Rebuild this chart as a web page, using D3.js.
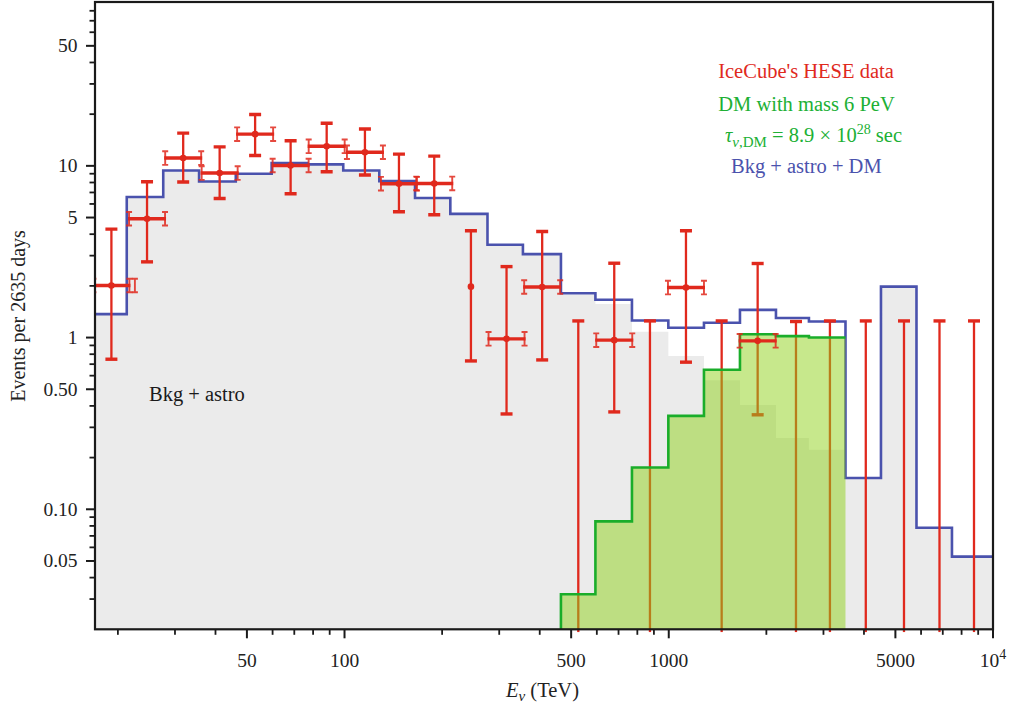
<!DOCTYPE html>
<html><head><meta charset="utf-8">
<script src="https://cdn.jsdelivr.net/npm/d3@7"></script>
<style>
html,body{margin:0;padding:0;background:#fff;}
svg text{font-family:"Liberation Serif","Times New Roman",serif;}
</style></head><body>
<svg id="chart" width="1010" height="704"></svg>
<script>
// ---- data ----
const binEdges = [16.5, 21.3, 27.6, 35.6, 46.2, 59.6, 76.8, 99.1, 128, 165, 212, 276, 355, 465, 594, 770, 997, 1284, 1658, 2141, 2706, 3508, 4513, 5808, 7472, 12000];
const bkgAstro = [1.37, 6.58, 9.4, 8.11, 9.0, 10.4, 10.2, 9.4, 8.15, 6.5, 5.25, 3.47, 3.06, 1.78, 1.57, 1.08, 0.78, 0.565, 0.405, 0.26, 0.222, 0.152, 1.98, 0.078, 0.053];
const totalModel = [1.37, 6.58, 9.4, 8.11, 9.0, 10.4, 10.2, 9.4, 8.15, 6.5, 5.25, 3.47, 3.06, 1.81, 1.66, 1.256, 1.14, 1.22, 1.45, 1.30, 1.24, 0.152, 1.98, 0.078, 0.053];
const dmSignal = [null, null, null, null, null, null, null, null, null, null, null, null, null, 0.032, 0.085, 0.175, 0.35, 0.65, 1.045, 1.02, 1.0, null, null, null, null];

const dataE = [19.1, 24.6, 31.8, 41.2, 53.0, 68.2, 88.1, 115.6, 147.2, 189.1, 245.4, 316, 407, 526, 679, 875, 1130, 1456, 1880, 2468, 3141, 4052, 5315, 6839, 8738];
const dataVal = [2.01, 4.92, 11.1, 9.08, 15.3, 10.05, 13.0, 12.0, 7.87, 7.9, 1.98, 0.983, 1.97, 0, 0.966, 0, 1.956, 0, 0.957, 0, 0, 0, 0, 0, 0];
const dataHi = [4.28, 8.08, 15.5, 12.9, 19.9, 14.0, 17.7, 16.4, 11.7, 11.4, 4.19, 2.59, 4.15, 1.25, 2.71, 1.25, 4.19, 1.25, 2.70, 1.24, 1.25, 1.25, 1.25, 1.25, 1.25];
const dataLo = [0.748, 2.76, 8.05, 6.45, 11.5, 6.88, 9.24, 8.84, 5.4, 5.19, 0.731, 0.359, 0.741, 0, 0.369, 0, 0.719, 0, 0.355, 0, 0, 0, 0, 0, 0];
const dataHasXBar = [1,1,1,1,1,1,1,1,1,1,0,1,1,0,1,0,1,0,1,0,0,0,0,0,0];
const dataBinHalfWidthDex = 0.0555;

const xTickMajor = [50, 100, 500, 1000, 5000, 10000];
const xTickLabels = ["50", "100", "500", "1000", "5000", "10^4"];
const yTickMajor = [0.05, 0.1, 0.5, 1, 5, 10, 50];
const yTickLabels = ["0.05", "0.10", "0.50", "1", "5", "10", "50"];

// ---- layout ----
const L = 95, R = 993, T = 2, B = 629.3;
const RED = "#e0291d", BLUE = "#4a52ad", GREEN = "#1aad2a", GREENTXT = "#20b034", GRAY = "#ebebeb";

const x = d3.scaleLog().domain([17, 1e4]).range([L, R]);
const y = d3.scaleLog().domain([0.02, 90]).range([B, T]);

const svg = d3.select("#chart");
const defs = svg.append("defs");
defs.append("clipPath").attr("id", "clip")
  .append("rect").attr("x", L).attr("y", T).attr("width", R - L).attr("height", B - T);
defs.append("clipPath").attr("id", "clip2")
  .append("rect").attr("x", L).attr("y", T).attr("width", R - L).attr("height", B - T + 3);

function stepPts(vals, from, to) {
  const pts = [];
  for (let i = from; i <= to; i++) pts.push([binEdges[i], vals[i]]);
  pts.push([binEdges[to + 1], vals[to]]);
  return pts;
}
const nb = bkgAstro.length;
const area = d3.area().curve(d3.curveStepAfter).x(d => x(d[0])).y0(B + 2).y1(d => y(d[1]));
const line = d3.line().curve(d3.curveStepAfter).x(d => x(d[0])).y(d => y(d[1]));

// layer 1: gray Bkg + astro area and blue total line
const gBase = svg.append("g").attr("clip-path", "url(#clip)");
gBase.append("path").attr("d", area(stepPts(bkgAstro, 0, nb - 1))).attr("fill", GRAY);
gBase.append("path").attr("d", line(stepPts(totalModel, 0, nb - 1)))
  .attr("fill", "none").attr("stroke", BLUE).attr("stroke-width", 2.6);

// layer 2: red vertical error bars
const gv = svg.append("g").attr("clip-path", "url(#clip2)");
dataE.forEach((e, i) => {
  const xc = x(e);
  const yTop = y(dataHi[i]);
  const yBot = dataLo[i] > 0 ? y(dataLo[i]) : B + 3;
  gv.append("line").attr("x1", xc).attr("x2", xc).attr("y1", yTop).attr("y2", yBot)
    .attr("stroke", RED).attr("stroke-width", 2.3);
  gv.append("line").attr("x1", xc - 6).attr("x2", xc + 6).attr("y1", yTop).attr("y2", yTop)
    .attr("stroke", RED).attr("stroke-width", 3.4);
  if (dataLo[i] > 0)
    gv.append("line").attr("x1", xc - 6).attr("x2", xc + 6).attr("y1", yBot).attr("y2", yBot)
      .attr("stroke", RED).attr("stroke-width", 3.4);
});

// layer 3: DM green area + line (semi-transparent, over the error bars)
const gDM = svg.append("g").attr("clip-path", "url(#clip)");
const dmFrom = dmSignal.findIndex(v => v != null);
const dmTo = dmSignal.length - 1 - [...dmSignal].reverse().findIndex(v => v != null);
const dmPts = stepPts(dmSignal, dmFrom, dmTo);
gDM.append("path").attr("d", area(dmPts)).attr("fill", "#8fd11a").attr("fill-opacity", 0.5);
const dmLinePts = [[binEdges[dmFrom], 0.019]].concat(dmPts);
gDM.append("path").attr("d", line(dmLinePts)).attr("fill", "none")
  .attr("stroke", GREEN).attr("stroke-width", 2.6);

// layer 4: red horizontal bars, caps, dots
function iCap(sel, xc, yc) {
  sel.append("path")
    .attr("d", `M${xc - 3},${yc - 6.8}H${xc + 3}M${xc},${yc - 6.8}V${yc + 6.8}M${xc - 3},${yc + 6.8}H${xc + 3}`)
    .attr("stroke", RED).attr("stroke-width", 1.9).attr("fill", "none").attr("opacity", 0.85);
}
const gh = svg.append("g").attr("clip-path", "url(#clip)");
dataE.forEach((e, i) => {
  if (dataVal[i] <= 0) return;
  const xc = x(e), yc = y(dataVal[i]);
  if (dataHasXBar[i]) {
    const xl = x(e / Math.pow(10, dataBinHalfWidthDex));
    const xr = x(e * Math.pow(10, dataBinHalfWidthDex));
    gh.append("line").attr("x1", xl - 1).attr("x2", xr + 1).attr("y1", yc).attr("y2", yc)
      .attr("stroke", RED).attr("stroke-width", 3.4);
    iCap(gh, xl, yc); iCap(gh, xr, yc);
    if (i === 0) iCap(gh, xr + 5.5, yc);
  }
  gh.append("circle").attr("cx", xc).attr("cy", yc).attr("r", 3.3).attr("fill", RED);
});

// ---- axes ----
const ax = svg.append("g");
const xMinor = x.ticks().filter(t => !xTickMajor.some(m => Math.abs(m - t) / m < 1e-6) && t > 17 && t < 1e4);
const yMinor = y.ticks().filter(t => !yTickMajor.some(m => Math.abs(m - t) / m < 1e-6) && t > 0.0201 && t < 89);
const tickCol = "#1a1a1a";
xTickMajor.forEach(t => ax.append("line").attr("x1", x(t)).attr("x2", x(t)).attr("y1", B).attr("y2", B + 9).attr("stroke", tickCol).attr("stroke-width", 2));
xMinor.forEach(t => ax.append("line").attr("x1", x(t)).attr("x2", x(t)).attr("y1", B).attr("y2", B + 5.5).attr("stroke", tickCol).attr("stroke-width", 1.8));
yTickMajor.forEach(t => ax.append("line").attr("x1", L - 9).attr("x2", L).attr("y1", y(t)).attr("y2", y(t)).attr("stroke", tickCol).attr("stroke-width", 2));
yMinor.forEach(t => ax.append("line").attr("x1", L - 5.5).attr("x2", L).attr("y1", y(t)).attr("y2", y(t)).attr("stroke", tickCol).attr("stroke-width", 1.8));

// frame
svg.append("rect").attr("x", L).attr("y", T).attr("width", R - L).attr("height", B - T)
  .attr("fill", "none").attr("stroke", tickCol).attr("stroke-width", 2.2);

// tick labels
xTickMajor.forEach((t, i) => {
  const lab = xTickLabels[i];
  const tx = ax.append("text").attr("x", x(t)).attr("y", 666.5).attr("text-anchor", "middle")
    .attr("font-size", 19.5).attr("fill", "#222");
  if (lab.includes("^")) {
    const [b, p] = lab.split("^");
    tx.append("tspan").text(b);
    tx.append("tspan").attr("dy", -8).attr("font-size", 14).text(p);
  } else tx.text(lab);
});
yTickMajor.forEach((t, i) => {
  ax.append("text").attr("x", 77.5).attr("y", y(t)).attr("dy", "0.33em").attr("text-anchor", "end")
    .attr("font-size", 19.5).attr("fill", "#222").text(yTickLabels[i]);
});

// axis titles
svg.append("text").attr("transform", "translate(25,316) rotate(-90)").attr("text-anchor", "middle")
  .attr("font-size", 20).attr("fill", "#222").text("Events per 2635 days");
const xt = svg.append("text").attr("x", 542.5).attr("y", 697).attr("text-anchor", "middle")
  .attr("font-size", 20.5).attr("fill", "#222");
xt.append("tspan").attr("font-style", "italic").text("E");
xt.append("tspan").attr("font-style", "italic").attr("font-size", 15).attr("dy", 4).text("ν");
xt.append("tspan").attr("dy", -4).text(" (TeV)");

// legend texts
const lg = svg.append("g").attr("font-size", 20.5);
lg.append("text").attr("x", 806).attr("y", 78).attr("text-anchor", "middle").attr("fill", RED).text("IceCube's HESE data");
lg.append("text").attr("x", 806.5).attr("y", 110.7).attr("text-anchor", "middle").attr("fill", GREENTXT).text("DM with mass 6 PeV");
const tau = lg.append("text").attr("x", 813.5).attr("y", 141.7).attr("text-anchor", "middle").attr("fill", GREENTXT);
tau.append("tspan").attr("font-style", "italic").text("τ");
tau.append("tspan").attr("font-size", 15).attr("dy", 5).attr("font-style", "italic").text("ν");
tau.append("tspan").attr("font-size", 15).text(",DM");
tau.append("tspan").attr("dy", -5).text(" = 8.9 × 10");
tau.append("tspan").attr("font-size", 14).attr("dy", -8).text("28");
tau.append("tspan").attr("dy", 8).text(" sec");
lg.append("text").attr("x", 806.3).attr("y", 172.7).attr("text-anchor", "middle").attr("fill", BLUE).text("Bkg + astro + DM");

svg.append("text").attr("x", 149).attr("y", 401).attr("font-size", 20.5).attr("fill", "#1a1a1a").text("Bkg + astro");
</script>
</body></html>
